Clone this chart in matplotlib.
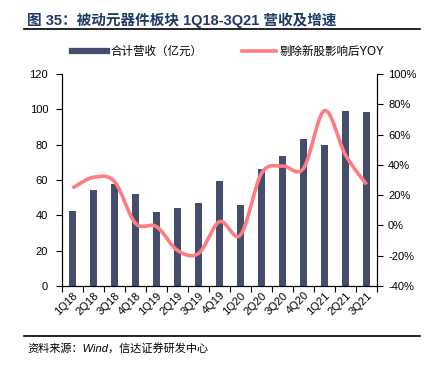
import numpy as np
import matplotlib.pyplot as plt
from matplotlib.lines import Line2D

plt.rcParams['font.family'] = ['Liberation Sans', 'Noto Sans CJK SC', 'DejaVu Sans']

quarters = ['1Q18', '2Q18', '3Q18', '4Q18', '1Q19', '2Q19', '3Q19', '4Q19',
            '1Q20', '2Q20', '3Q20', '4Q20', '1Q21', '2Q21', '3Q21']
revenue = [42.6, 54.3, 57.5, 51.9, 42.1, 44.0, 46.8, 59.4,
           45.7, 66.2, 73.6, 83.0, 80.0, 99.2, 98.3]
yoy = [24.7, 31.8, 28.9, 1.4, -0.8, -16.5, -18.5, 2.5,
       -6.3, 34.4, 39.2, 37.7, 75.8, 46.5, 27.1]

bar_color = '#444D6B'
line_color = '#FF7C80'


def smooth(x, y, n=20):
    # Catmull-Rom, like excel smoothed line
    x = np.asarray(x, float)
    y = np.asarray(y, float)
    px = np.concatenate([[x[0]], x, [x[-1]]])
    py = np.concatenate([[y[0]], y, [y[-1]]])
    xs, ys = [], []
    t = np.linspace(0, 1, n, endpoint=False)
    for i in range(1, len(px) - 2):
        for p, out in ((px, xs), (py, ys)):
            p0, p1, p2, p3 = p[i - 1], p[i], p[i + 1], p[i + 2]
            out.extend(0.5 * (2 * p1 + (-p0 + p2) * t + (2 * p0 - 5 * p1 + 4 * p2 - p3) * t ** 2
                              + (-p0 + 3 * p1 - 3 * p2 + p3) * t ** 3))
    xs.append(x[-1])
    ys.append(y[-1])
    return np.array(xs), np.array(ys)


fig = plt.figure(figsize=(4.31, 3.67), dpi=100)
ax = fig.add_axes([0.1439, 0.2207, 0.7308, 0.5777])
x = np.arange(len(quarters))
ax.bar(x, revenue, width=0.33, color=bar_color, zorder=2)
ax.set_xlim(-0.5, len(quarters) - 0.5)
ax.set_ylim(0, 120)
ax.set_yticks(range(0, 121, 20))
ax.set_xticks(np.arange(-0.5, len(quarters), 1))
ax.set_xticklabels([])
ax.set_xticks(x, minor=True)
ax.set_xticklabels(quarters, minor=True, rotation=45, ha='right', va='top',
                   rotation_mode='anchor', fontsize=8)
ax.tick_params(axis='x', which='minor', length=0, pad=3)
ax.tick_params(axis='x', which='major', length=4, direction='out')
ax.tick_params(axis='y', labelsize=8, length=4, pad=6)
ax.spines['top'].set_visible(False)

ax2 = ax.twinx()
sx, sy = smooth(x, yoy)
ax2.plot(sx, sy, color=line_color, lw=2.6, solid_capstyle='butt', zorder=3)
ax2.set_ylim(-40, 100)
ax2.set_yticks(range(-40, 101, 20))
ax2.set_yticklabels([f'{v}%' for v in range(-40, 101, 20)])
ax2.tick_params(axis='y', labelsize=8, length=4, pad=4)
ax2.spines['top'].set_visible(False)

handles = [Line2D([0], [0], color=bar_color, lw=4.5),
           Line2D([0], [0], color=line_color, lw=2.6)]
fig.legend(handles, ['合计营收（亿元）', '剔除新股影响后YOY'], loc='center',
           bbox_to_anchor=(0.53, 0.858), ncol=2, frameon=False, fontsize=8.3,
           handlelength=3.0, handletextpad=0.3, columnspacing=3.4)

fig.text(0.063, 0.945, '图 35：被动元器件板块 1Q18-3Q21 营收及增速', fontsize=10.5,
         fontweight='bold', color='#1F3A63', va='center', ha='left')
fig.add_artist(Line2D([0.056, 0.975], [0.92, 0.92], color='black', lw=1.2))
fig.add_artist(Line2D([0.056, 0.975], [0.085, 0.085], color='black', lw=1.2))
fig.text(0.063, 0.05, '资料来源：Wind，信达证券研发中心', fontsize=8,
         style='italic', va='center', ha='left')

fig.savefig('out.png', dpi=100)
